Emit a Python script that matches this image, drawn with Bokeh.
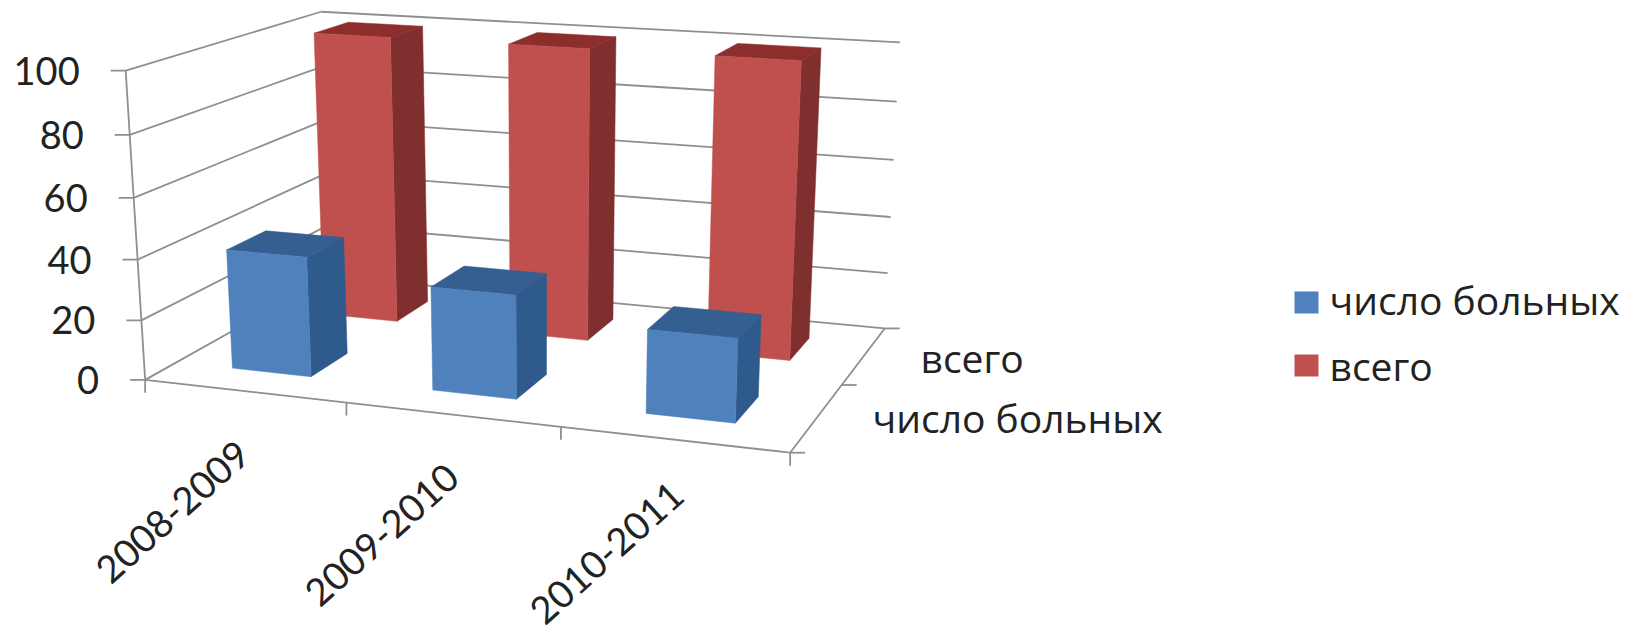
import numpy as np
from bokeh.core.properties import value
from bokeh.embed import file_html
from bokeh.models import Range1d
from bokeh.plotting import figure
from bokeh.resources import INLINE

# Chart data
categories = ["2008-2009", "2009-2010", "2010-2011"]
series_names = ["число больных", "всего"]
patients = [40, 34, 27]
total = [100, 100, 100]
y_ticks = [0, 20, 40, 60, 80, 100]

# Palette
FRONT = ["#4F81BD", "#C0504D"]
SIDE = ["#2E5A8C", "#7F2F2D"]
TOP = ["#365F91", "#8C2E2B"]
GRID = "#8F8F8F"
INK = "#222222"
NUM_FONT = value("Lato")
WORD_FONT = value("Open Sans")

# Screen positions of the plot box corners (cat fraction, value fraction, depth fraction).
box = [
    ((0, 0, 0), (142.3, 379.0)),
    ((0, 1, 0), (127.3, 70.7)),
    ((0, 0, 1), (332.0, 276.0)),
    ((0, 1, 1), (318.3, 11.0)),
    ((1, 0, 1), (883.3, 328.3)),
    ((1, 1, 1), (900.0, 41.7)),
    ((1, 0, 0), (790.0, 452.0)),
]


def solve_camera(pairs):
    rows = []
    for (a, b, c), (sx, sy) in pairs:
        rows.append([a, b, c, 1, 0, 0, 0, 0, -sx * a, -sx * b, -sx * c, -sx])
        rows.append([0, 0, 0, 0, a, b, c, 1, -sy * a, -sy * b, -sy * c, -sy])
    return np.linalg.svd(np.array(rows))[2][-1].reshape(3, 4)


CAMERA = solve_camera(box)
N_CAT = len(categories)
N_DEPTH = len(series_names)
Y_MAX = max(y_ticks)


def project(cat, val, depth):
    h = CAMERA @ np.array([cat / N_CAT, val / Y_MAX, depth / N_DEPTH, 1.0])
    return h[0] / h[2], h[1] / h[2]


p = figure(width=1644, height=633, x_range=Range1d(0, 1644), y_range=Range1d(633, 0),
           output_backend="svg", toolbar_location=None, min_border=0,
           x_axis_type=None, y_axis_type=None, outline_line_color=None)
p.xgrid.visible = False
p.ygrid.visible = False


def seg(a, b, width=1.8):
    p.line([a[0], b[0]], [a[1], b[1]], line_color=GRID, line_width=width)


# Walls: gridlines run along the left wall and the back wall
for t in y_ticks:
    seg(project(0, t, 0), project(0, t, N_DEPTH))
    seg(project(0, t, N_DEPTH), project(N_CAT, t, N_DEPTH))

# Floor edges and the value axis
seg(project(0, 0, 0), project(N_CAT, 0, 0))
seg(project(N_CAT, 0, 0), project(N_CAT, 0, N_DEPTH))
seg(project(0, Y_MAX, 0), project(0, 0, 0))

# Tick marks
for t in y_ticks:
    x, y = project(0, t, 0)
    p.line([x - 15, x], [y, y], line_color=GRID, line_width=1.8)
for i in range(N_CAT + 1):
    x, y = project(i, 0, 0)
    p.line([x, x], [y, y + 13], line_color=GRID, line_width=1.8)
for d in range(N_DEPTH + 1):
    x, y = project(N_CAT, 0, d)
    p.line([x, x + 15], [y, y], line_color=GRID, line_width=1.8)

# Bars, back series first so the nearer ones overlap them
GAP = 0.3
NUDGE = -0.012
for s in reversed(range(N_DEPTH)):
    vals = [patients, total][s]
    for i, v in enumerate(vals):
        u0, u1 = i + GAP + NUDGE, i + 1 - GAP + NUDGE
        w0, w1 = s + GAP, s + 1 - GAP
        faces = [
            ([(u1, 0, w0), (u1, 0, w1), (u1, v, w1), (u1, v, w0)], SIDE[s]),
            ([(u0, v, w0), (u1, v, w0), (u1, v, w1), (u0, v, w1)], TOP[s]),
            ([(u0, 0, w0), (u1, 0, w0), (u1, v, w0), (u0, v, w0)], FRONT[s]),
        ]
        for corners, color in faces:
            pts = [project(*c) for c in corners]
            p.patch([q[0] for q in pts], [q[1] for q in pts], fill_color=color, line_color=color, line_width=0.5)

# Value labels
for t in y_ticks:
    x, y = project(0, t, 0)
    p.text([x - 46], [y], text=[str(t)], text_font=NUM_FONT, text_font_size="38px", text_color=INK,
           text_align="right", text_baseline="middle")

# Category labels, rotated
for name, cx, cy in zip(categories, [172, 381, 606], [511, 534, 552]):
    p.text([cx], [cy], text=[name], text_font=NUM_FONT, text_font_size="38px", text_color=INK,
           text_align="center", text_baseline="middle", angle=np.radians(42))

# Depth axis labels
for name, lx, ly in zip(series_names, [872, 920], [416.5, 356.5]):
    p.text([lx], [ly], text=[name], text_font=WORD_FONT, text_font_size="39px", text_color=INK,
           text_align="left", text_baseline="middle")

# Legend
for s, (name, top, mid) in enumerate(zip(series_names, [291, 354], [299, 365])):
    p.quad(left=[1294], right=[1318], top=[top], bottom=[top + 22], fill_color=FRONT[s], line_color=None)
    p.text([1329], [mid], text=[name], text_font=WORD_FONT, text_font_size="39px", text_color=INK,
           text_align="left", text_baseline="middle")

open("out.html", "w").write(file_html(p, INLINE))
